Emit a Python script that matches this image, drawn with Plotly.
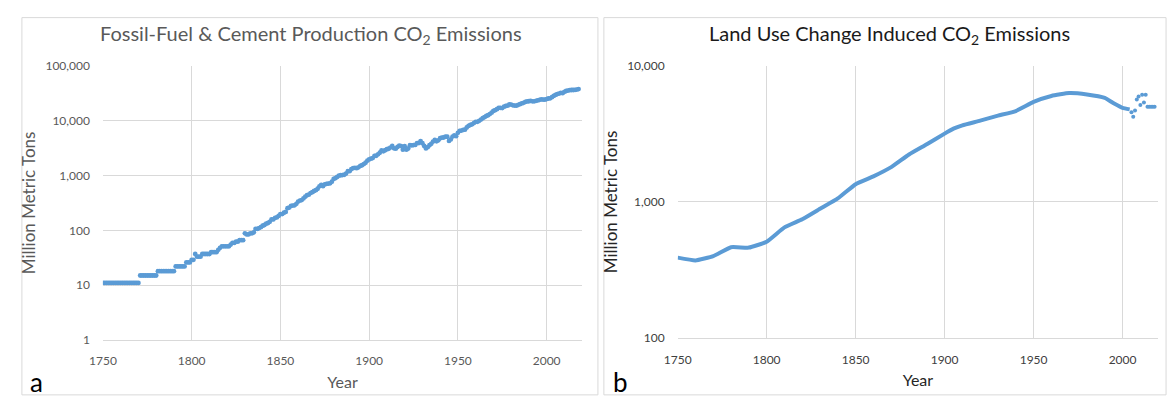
import plotly.graph_objects as go

# ---- Fossil-fuel & cement production CO2 emissions (million metric tons), annual ----
ff_years = list(range(1750, 2019))
ff_values = (
    [11] * 21 +                      # 1750-1770
    [15] * 10 +                      # 1771-1780
    [18] * 10 +                      # 1781-1790
    [22] * 6 +                       # 1791-1796
    [26, 26, 26] +                   # 1797-1799
    [29, 29, 37, 33, 33, 33, 37, 37, 37, 37, 37,   # 1800-1810
     40, 40, 40, 40, 44, 48, 51, 51, 51, 51,       # 1811-1820
     51, 55, 59, 59, 62, 62, 66, 66, 66,           # 1821-1829
     88, 84, 84, 88, 88, 92, 106, 106, 110, 114,   # 1830-1839
     121, 125, 132, 136, 143, 158, 158, 169, 172, 183,  # 1840-1849
     198, 198, 209, 216, 253, 260, 279, 282, 286, 304,  # 1850-1859
     334, 348, 356, 381, 411, 436, 447, 477, 495, 521,  # 1860-1869
     539, 572, 634, 675, 638, 689, 700, 711, 719, 770,  # 1870-1879
     865, 891, 939, 997, 1008, 1016, 1030, 1082, 1199, 1199,  # 1880-1889
     1305, 1364, 1371, 1357, 1404, 1489, 1536, 1613, 1705, 1859,  # 1890-1899
     1958, 2024, 2075, 2262, 2288, 2431, 2593, 2875, 2750, 2879,  # 1900-1909
     3003, 3066, 3223, 3458, 3117, 3073, 3304, 3502, 3432, 2956,  # 1910-1919
     3418, 2945, 3099, 3557, 3531, 3575, 3605, 3894, 3905, 4199,  # 1920-1929
     3861, 3447, 3106, 3275, 3568, 3766, 4144, 4433, 4188, 4371,  # 1930-1939
     4763, 4892, 4921, 5101, 5071, 4254, 4540, 5104, 5387, 5203,  # 1940-1949
     5977, 6483, 6586, 6751, 6839, 7492, 7987, 8324, 8544, 9028,  # 1950-1959
     9450, 9512, 9901, 10444, 11030, 11533, 12119, 12508, 13157, 13934,  # 1960-1969
     14947, 15515, 16131, 16997, 17030, 16923, 17906, 18441, 18720, 19754,  # 1970-1979
     19552, 18951, 18801, 18738, 19398, 19963, 20572, 21096, 21870, 22328,  # 1980-1989
     22530, 22864, 22435, 22457, 22889, 23366, 23872, 24272, 24158, 24088,  # 1990-1999
     24697, 25287, 25482, 26718, 28133, 29343, 30469, 31140, 32079, 31566,  # 2000-2009
     33410, 34650, 35280, 35918, 36138, 36100, 36200, 36700, 37500]         # 2010-2018
)

# ---- Land-use change induced CO2 emissions (million metric tons) ----
luc_years = [1750, 1760, 1770, 1780, 1790, 1800, 1810, 1820, 1830, 1840,
             1850, 1860, 1870, 1880, 1890, 1900, 1905, 1910, 1920, 1930,
             1940, 1950, 1960, 1970, 1980, 1990, 1995, 2000, 2004]
luc_values = [390, 372, 400, 465, 462, 510, 650, 745, 890, 1060,
              1350, 1540, 1800, 2230, 2650, 3175, 3450, 3650, 3950, 4300,
              4650, 5430, 6000, 6300, 6150, 5800, 5300, 4900, 4780]
luc_tail_years = [2005, 2006, 2007, 2008, 2009, 2010, 2011, 2012, 2013,
                  2014, 2015, 2016, 2017, 2018]
luc_tail_values = [4560, 4230, 4700, 5640, 5950, 5140, 6120, 5370, 6120,
                   5000, 5000, 5000, 5000, 5000]

x_ticks = [1750, 1800, 1850, 1900, 1950, 2000]
ff_yticks = [1, 10, 100, 1000, 10000, 100000]
luc_yticks = [100, 1000, 10000]

BLUE = "#5B9BD5"
GRID = "#D9D9D9"
FONT = "Lato, Open Sans, sans-serif"
W, H = 1171, 399

fig = go.Figure()

fig.add_trace(go.Scatter(
    x=ff_years, y=ff_values, mode="markers",
    marker=dict(color=BLUE, size=4.8, line=dict(width=0)),
    xaxis="x", yaxis="y", showlegend=False,
))
fig.add_trace(go.Scatter(
    x=luc_years, y=luc_values, mode="lines",
    line=dict(color=BLUE, width=4, shape="spline", smoothing=0.4),
    xaxis="x2", yaxis="y2", showlegend=False,
))
fig.add_trace(go.Scatter(
    x=luc_tail_years, y=luc_tail_values, mode="markers",
    marker=dict(color=BLUE, size=4, line=dict(width=0)),
    xaxis="x2", yaxis="y2", showlegend=False,
))


def px_x(v):
    return v / W


def px_y(v):
    return 1 - v / H


common_x = dict(
    range=[1750, 2020], tickvals=x_ticks, showgrid=True, gridcolor=GRID,
    gridwidth=1, zeroline=False, showline=True, linecolor=GRID, ticks="",
    ticklabelstandoff=10, title=dict(text="Year", standoff=9),
)

fig.update_layout(
    width=W, height=H,
    margin=dict(l=0, r=0, t=0, b=0),
    paper_bgcolor="white", plot_bgcolor="white",
    font=dict(family=FONT, size=12, color="#595959"),
    xaxis=dict(common_x, domain=[px_x(90), px_x(575)], anchor="y",
               tickfont=dict(size=12, color="#595959"),
               title_font=dict(size=16, color="#595959")),
    yaxis=dict(type="log", range=[0, 5], tickvals=ff_yticks,
               tickformat=",d", domain=[px_y(345), px_y(60)], anchor="x",
               showgrid=True, gridcolor=GRID, zeroline=False, showline=False,
               ticks="", ticklabelstandoff=12,
               tickfont=dict(size=12, color="#595959"),
               title=dict(text="Million Metric Tons", standoff=5,
                          font=dict(size=17, color="#595959"))),
    xaxis2=dict(common_x, domain=[px_x(671.7), px_x(1158)], anchor="y2",
                tickfont=dict(size=12, color="#404040"),
                title_font=dict(size=16, color="#262626")),
    yaxis2=dict(type="log", range=[2, 4], tickvals=luc_yticks,
                tickformat=",d", domain=[px_y(343), px_y(60)], anchor="x2",
                showgrid=True, gridcolor=GRID, zeroline=False, showline=False,
                ticks="", ticklabelstandoff=12,
                tickfont=dict(size=12, color="#404040"),
                title=dict(text="Million Metric Tons", standoff=5,
                           font=dict(size=17, color="#262626"))),
)

# panel frames
for x0, x1 in [(8, 591), (597, 1166)]:
    fig.add_shape(type="rect", xref="paper", yref="paper",
                  x0=px_x(x0), x1=px_x(x1), y0=px_y(402), y1=px_y(10),
                  line=dict(color=GRID, width=1), fillcolor="rgba(0,0,0,0)",
                  layer="below")

# panel titles
fig.add_annotation(text="Fossil-Fuel & Cement Production CO<sub>2</sub> Emissions",
                   x=px_x(301), y=px_y(28), xref="paper", yref="paper",
                   showarrow=False, xanchor="center", yanchor="middle",
                   font=dict(family=FONT, size=20, color="#595959"))
fig.add_annotation(text="Land Use Change Induced CO<sub>2</sub> Emissions",
                   x=px_x(886), y=px_y(28), xref="paper", yref="paper",
                   showarrow=False, xanchor="center", yanchor="middle",
                   font=dict(family=FONT, size=20, color="#1a1a1a"))

# panel letters
for letter, xp in [("a", 14), ("b", 604)]:
    fig.add_annotation(text=letter, x=px_x(xp), y=px_y(389), xref="paper",
                       yref="paper", showarrow=False, xanchor="left",
                       yanchor="middle",
                       font=dict(family=FONT, size=26, color="#000000"))

fig.write_html("out.html")
